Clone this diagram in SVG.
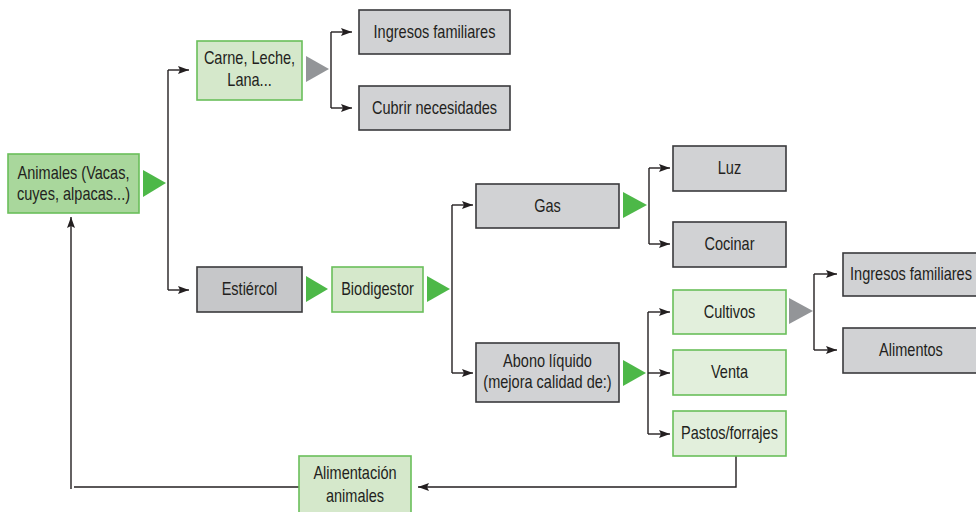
<svg xmlns="http://www.w3.org/2000/svg" width="976" height="512" viewBox="0 0 976 512">
<defs>
<marker id="arr" markerUnits="userSpaceOnUse" markerWidth="11" markerHeight="8" refX="11" refY="4" orient="auto">
<path d="M0,0 L11,4 L0,8 L2,4 z" fill="#231f20"/>
</marker>
<style>
.gray{fill:#d1d2d4;stroke:#3a3a3c;stroke-width:1.6}
.dgray{fill:#c6c7c9;stroke:#3a3a3c;stroke-width:1.6}
.g1{fill:#a9d79c;stroke:#6abf5a;stroke-width:1.6}
.g2{fill:#d5e8cb;stroke:#6abf5a;stroke-width:1.6}
.g3{fill:#e2efdc;stroke:#6abf5a;stroke-width:1.6}
text{font-family:"Liberation Sans",Arial,sans-serif;font-size:17.5px;fill:#231f20;text-anchor:middle}
.ln{fill:none;stroke:#231f20;stroke-width:1.4}
.arw{fill:none;stroke:#231f20;stroke-width:1.4;marker-end:url(#arr)}
.tg{fill:#4db848}
.tr{fill:#939598}
</style>
</defs>

<g id="connectors">
<polygon class="tg" points="143,170 166,183 143,197"/>
<polyline class="ln" points="168,70 168,290"/>
<polyline class="arw" points="168,70 189,70"/>
<polyline class="arw" points="168,290 189,290"/>

<polygon class="tr" points="306,56 329,69 306,82"/>
<polyline class="ln" points="331,32 331,108"/>
<polyline class="arw" points="331,32 352,32"/>
<polyline class="arw" points="331,108 352,108"/>

<polygon class="tg" points="306,276 328,289 306,302"/>
<polygon class="tg" points="427,276 450,289 427,302"/>
<polyline class="ln" points="452,205 452,373"/>
<polyline class="arw" points="452,205 473,205"/>
<polyline class="arw" points="452,373 473,373"/>

<polygon class="tg" points="623,192 647,205 623,218"/>
<polyline class="ln" points="649,168 649,244"/>
<polyline class="arw" points="649,168 670,168"/>
<polyline class="arw" points="649,244 670,244"/>

<polygon class="tg" points="623,360 646,373 623,386"/>
<polyline class="ln" points="648,312 648,434"/>
<polyline class="arw" points="648,312 670,312"/>
<polyline class="arw" points="648,373 670,373"/>
<polyline class="arw" points="648,434 670,434"/>

<polygon class="tr" points="789,298 813,311 789,324"/>
<polyline class="ln" points="814,274 814,350"/>
<polyline class="arw" points="814,274 837,274"/>
<polyline class="arw" points="814,350 837,350"/>

<polyline class="arw" points="736,456 736,487 418,487"/>
<polyline class="ln" points="299,487 74,487"/>
<polyline class="arw" points="71,489 71,217"/>
</g>

<g id="animales"><rect class="g1" x="8" y="154" width="131" height="59"/><text transform="translate(73.5,179) scale(0.83,1)">Animales (Vacas,</text><text transform="translate(73.5,200) scale(0.83,1)">cuyes, alpacas...)</text></g>
<g id="carne"><rect class="g2" x="197" y="41" width="105" height="59"/><text transform="translate(249.5,64) scale(0.83,1)">Carne, Leche,</text><text transform="translate(249.5,86) scale(0.83,1)">Lana...</text></g>
<g id="ingresos1"><rect class="gray" x="359" y="10" width="151" height="44"/><text transform="translate(434.5,38) scale(0.83,1)">Ingresos familiares</text></g>
<g id="cubrir"><rect class="gray" x="359" y="86" width="151" height="44"/><text transform="translate(434.5,114) scale(0.83,1)">Cubrir necesidades</text></g>
<g id="estiercol"><rect class="dgray" x="197" y="267" width="105" height="45"/><text transform="translate(249.5,295) scale(0.83,1)">Estiércol</text></g>
<g id="biodigestor"><rect class="g2" x="332" y="267" width="91" height="45"/><text transform="translate(377.5,295) scale(0.83,1)">Biodigestor</text></g>
<g id="gas"><rect class="gray" x="476" y="184" width="143" height="44"/><text transform="translate(547.5,212) scale(0.83,1)">Gas</text></g>
<g id="abono"><rect class="gray" x="476" y="343" width="143" height="59"/><text transform="translate(547.5,367) scale(0.83,1)">Abono líquido</text><text transform="translate(547.5,388) scale(0.83,1)">(mejora calidad de:)</text></g>
<g id="luz"><rect class="gray" x="673" y="146" width="113" height="45"/><text transform="translate(729.5,174) scale(0.83,1)">Luz</text></g>
<g id="cocinar"><rect class="gray" x="673" y="222" width="113" height="45"/><text transform="translate(729.5,250) scale(0.83,1)">Cocinar</text></g>
<g id="cultivos"><rect class="g3" x="673" y="290" width="113" height="44"/><text transform="translate(729.5,318) scale(0.83,1)">Cultivos</text></g>
<g id="venta"><rect class="g3" x="673" y="350" width="113" height="45"/><text transform="translate(729.5,378) scale(0.83,1)">Venta</text></g>
<g id="pastos"><rect class="g3" x="673" y="411" width="113" height="45"/><text transform="translate(729.5,439) scale(0.83,1)">Pastos/forrajes</text></g>
<g id="ingresos2"><rect class="gray" x="843" y="253" width="140" height="43"/><text transform="translate(911,280) scale(0.83,1)">Ingresos familiares</text></g>
<g id="alimentos"><rect class="gray" x="843" y="328" width="140" height="45"/><text transform="translate(911,356) scale(0.83,1)">Alimentos</text></g>
<g id="alimentacion"><rect class="g2" x="299" y="456" width="112" height="60"/><text transform="translate(355,479) scale(0.83,1)">Alimentación</text><text transform="translate(355,502) scale(0.83,1)">animales</text></g>
</svg>
